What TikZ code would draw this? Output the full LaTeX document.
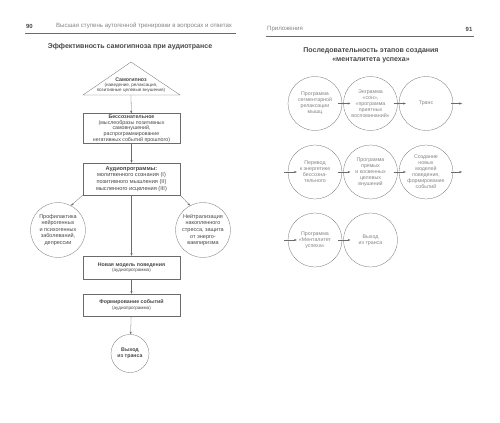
\documentclass[tikz,border=0pt]{standalone}
\usepackage{fontspec}
\setmainfont{Liberation Sans}
\usetikzlibrary{arrows.meta}

\definecolor{ink}{gray}{0.28}
\definecolor{pale}{gray}{0.52}
\definecolor{rule}{gray}{0.42}

\tikzset{
  box/.style={draw=rule,rectangle,minimum width=4.85cm,align=center,inner sep=1pt,text=ink,
    font=\fontsize{7.5}{8}\selectfont},
  ring/.style={draw=rule,circle,minimum size=2.75cm,inner sep=0pt,align=center,text=ink,
    font=\fontsize{7.8}{9.3}\selectfont},
  pring/.style={ring,minimum size=2.7cm,text=pale,font=\fontsize{7.5}{8.6}\selectfont},
  arr/.style={draw=rule,-{Stealth[length=4pt,width=3pt]}},
  head/.style={text=pale,font=\fontsize{8.7}{10}\selectfont,inner sep=0pt},
  ttl/.style={text=ink,font=\fontsize{10}{12.5}\selectfont\bfseries,align=center,inner sep=0pt},
}

\begin{document}
\begin{tikzpicture}[x=0.05cm,y=-0.05cm]
  \useasboundingbox[fill=white] (0,0) rectangle (500,423);

  % left page
  \node (pgl) at (29.5,26) [head,font=\fontsize{8.5}{9}\selectfont\bfseries,text=ink] {90};
  \node (hdl) at (144,26) [head] {Высшая ступень аутогенной тренировки в вопросах и ответах};
  \draw[rule,thick] (25,33) -- (236,33);
  \node (ttll) at (130,47) [ttl] {Эффективность самогипноза при аудиотрансе};

  \coordinate (apex) at (131,62);
  \coordinate (bl) at (83,95);
  \coordinate (br) at (180,95);
  \coordinate (samobase) at (131,95);
  \draw[rule] (apex) -- (br) -- (bl) -- cycle;
  \node (samo) at (131,85) [align=center,text=ink,inner sep=0pt,font=\fontsize{6.5}{7.2}\selectfont]
    {{\fontsize{7.5}{8}\selectfont\bfseries Самогипноз}\\(наведение, релаксация,\\позитивные целевые внушения)};

  \node (bsoz) at (131.5,128.5) [box,minimum height=1.5cm]
    {\textbf{Бессознательное}\\(мыслеобразы позитивных\\самовнушений,\\распрограммирование\\негативных событий прошлого)};
  \node (audio) at (131.5,179) [box,minimum height=1.6cm,font=\fontsize{8}{9.6}\selectfont]
    {\textbf{Аудиопрограммы:}\\молитвенного сознания (I)\\позитивного мышления (II)\\мысленного исцеления (III)};
  \node (prof) at (58,230) [ring]
    {Профилактика\\нейрогенных\\и психогенных\\заболеваний,\\депрессии};
  \node (neut) at (203,230) [ring]
    {Нейтрализация\\накопленного\\стресса, защита\\от энерго-\\вампиризма};
  \node (model) at (131.5,267.5) [box,minimum height=1.15cm]
    {\textbf{Новая модель поведения}\\{\fontsize{6.5}{7.5}\selectfont(аудиопрограмма)}};
  \node (sobyt) at (131.5,305) [box,minimum height=1.1cm]
    {\textbf{Формирование событий}\\{\fontsize{6.5}{7.5}\selectfont(аудиопрограмма)}};
  \node (vyhod) at (130,353.5) [ring,minimum size=1.9cm,font=\fontsize{7.5}{9}\selectfont\bfseries]
    {Выход\\из транса};

  \draw[arr] (samobase) -- (bsoz);
  \draw[arr] (bsoz) -- (audio);
  \draw[arr] (audio.south west) -- (prof.62);
  \draw[arr] (audio.south east) -- (neut.118);
  \draw[arr] (audio) -- (model);
  \draw[arr] (model) -- (sobyt);
  \draw[arr] (sobyt) -- (vyhod);

  % right page
  \node (hdr) at (267,29) [head,anchor=west] {Приложения};
  \node (pgr) at (469,29) [head,font=\fontsize{8.5}{9}\selectfont\bfseries,text=ink] {91};
  \draw[rule,thick] (266,36.5) -- (474,36.5);
  \node (ttlr) at (371,55.5) [ttl] {Последовательность этапов создания\\«менталитета успеха»};

  \node (sa) at (315,103.5) [pring] {Программа\\сегментарной\\релаксации\\мышц};
  \node (sb) at (370.5,103.5) [pring] {Энграмма\\«сон»,\\«программа\\приятных\\воспоминаний»};
  \node (sc) at (426,103.5) [pring] {Транс};
  \node (sd) at (315,172) [pring] {Перевод\\к энергетике\\бессозна-\\тельного};
  \node (se) at (370.5,172) [pring] {Программа\\прямых\\и косвенных\\целевых\\внушений};
  \node (sf) at (426,172) [pring] {Создание\\новых\\моделей\\поведения,\\формирование\\событий};
  \node (sg) at (315,240) [pring] {Программа\\«Менталитет\\успеха»};
  \node (sh) at (370.5,240) [pring] {Выход\\из транса};

  \coordinate (outa) at (462,103.5);
  \coordinate (ind) at (284,172);
  \coordinate (outb) at (462,172);
  \coordinate (ing) at (284,240);

  \draw[arr] ([xshift=-0.2cm]sa.east) -- ([xshift=0.35cm]sb.west);
  \draw[arr] ([xshift=-0.2cm]sb.east) -- ([xshift=0.35cm]sc.west);
  \draw[arr] ([xshift=-0.1cm]sc.east) -- (outa);
  \draw[arr] (ind) -- ([xshift=0.45cm]sd.west);
  \draw[arr] ([xshift=-0.2cm]sd.east) -- ([xshift=0.35cm]se.west);
  \draw[arr] ([xshift=-0.2cm]se.east) -- ([xshift=0.35cm]sf.west);
  \draw[arr] ([xshift=-0.1cm]sf.east) -- (outb);
  \draw[arr] (ing) -- ([xshift=0.45cm]sg.west);
  \draw[arr] ([xshift=-0.2cm]sg.east) -- ([xshift=0.35cm]sh.west);
\end{tikzpicture}
\end{document}
